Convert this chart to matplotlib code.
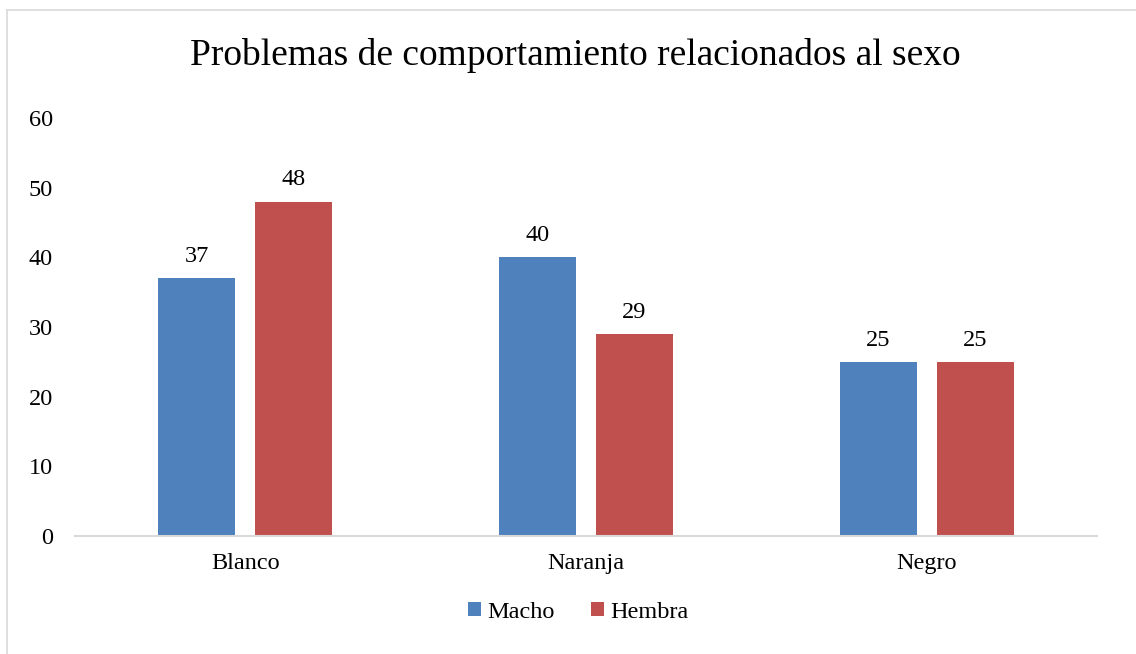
import matplotlib
matplotlib.use("Agg")
import matplotlib.pyplot as plt
import numpy as np
from matplotlib.lines import Line2D

categories = ["Blanco", "Naranja", "Negro"]
macho = [37, 40, 25]
hembra = [48, 29, 25]
series_names = ["Macho", "Hembra"]
yticks = [0, 10, 20, 30, 40, 50, 60]
title = "Problemas de comportamiento relacionados al sexo"

plt.rcParams['font.family'] = ['Liberation Serif', 'DejaVu Serif']

fig = plt.figure(figsize=(11.36, 6.54), dpi=100)
ax = fig.add_axes([0.066, 0.1804, 0.8997, 0.6392])

x = np.arange(len(categories))
w = 0.226
off = 0.142
b1 = ax.bar(x - off, macho, w, color="#4F81BD", label=series_names[0])
b2 = ax.bar(x + off, hembra, w, color="#C0504D", label=series_names[1])

fs = 17.5
for bars, vals in ((b1, macho), (b2, hembra)):
    for rect, v in zip(bars, vals):
        ax.annotate(str(v), (rect.get_x() + rect.get_width() / 2, v),
                    xytext=(0, 8), textcoords="offset points",
                    ha="center", va="bottom", fontsize=fs, color="#000000")

ax.set_xlim(-0.5, 2.5)
ax.set_ylim(0, 60)
ax.set_yticks(yticks)
ax.set_yticklabels([str(t) for t in yticks], fontsize=fs)
ax.set_xticks(x)
ax.set_xticklabels(categories, fontsize=fs)
ax.tick_params(axis="both", length=0)
ax.tick_params(axis="y", pad=16)
ax.tick_params(axis="x", pad=12)
for s in ("top", "right", "left"):
    ax.spines[s].set_visible(False)
ax.spines["bottom"].set_color("#D9D9D9")
ax.spines["bottom"].set_linewidth(1.5)

fig.text(0.506, 0.915, title, ha="center", va="center", fontsize=27)

leg = fig.legend(handles=[b1, b2], labels=series_names, loc="center",
                 bbox_to_anchor=(0.509, 0.064), ncol=2, frameon=False,
                 fontsize=fs, handlelength=0.55, handleheight=0.55,
                 handletextpad=0.25, columnspacing=1.5)

# chart border (left and top visible)
fig.add_artist(Line2D([7/1136, 7/1136], [0, 1 - 10/654], color="#D9D9D9", lw=1.2, transform=fig.transFigure))
fig.add_artist(Line2D([7/1136, 1], [1 - 10/654, 1 - 10/654], color="#D9D9D9", lw=1.2, transform=fig.transFigure))

fig.savefig("out.png", dpi=100, facecolor="white")
